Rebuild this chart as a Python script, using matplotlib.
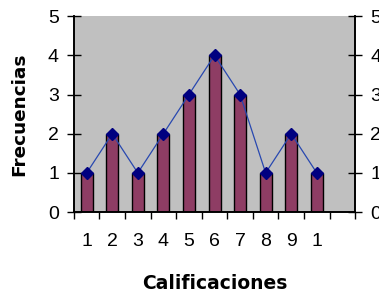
import matplotlib.pyplot as plt

categorias = ["1", "2", "3", "4", "5", "6", "7", "8", "9", "1", ""]
frecuencias = [1, 2, 1, 2, 3, 4, 3, 1, 2, 1]

fig = plt.figure(figsize=(3.79, 2.93), dpi=100)
ax = fig.add_axes([0.195, 0.276, 0.742, 0.669])
ax.set_facecolor("#C0C0C0")

x = list(range(len(frecuencias)))
ax.bar(x, frecuencias, width=0.47, color="#8E3D64", edgecolor="black", linewidth=1, zorder=2)
ax.plot(x, frecuencias, color="#2848B0", linewidth=0.9, marker="D", markersize=6.5,
        markerfacecolor="#000080", markeredgecolor="#000080", zorder=3)

ax.set_xlim(-0.5, len(categorias) - 0.5)
ax.set_ylim(0, 5)
ax.set_yticks(range(6))
ax.set_xticks(range(len(categorias)))
ax.set_xticklabels(categorias, fontfamily="Liberation Sans")
ax.set_xticks([i - 0.5 for i in range(len(categorias) + 1)], minor=True)
ax.tick_params(axis="x", which="major", length=0, labelsize=14, pad=15)
ax.tick_params(axis="x", which="minor", length=5, width=1, direction="out")
ax.tick_params(axis="y", length=9.5, width=1, direction="inout", labelsize=14, pad=6)
for lab in ax.get_yticklabels():
    lab.set_fontfamily("Liberation Sans")

# eje derecho
ax2 = ax.twinx()
ax2.set_ylim(0, 5)
ax2.set_yticks(range(6))
ax2.tick_params(axis="y", length=9.5, width=1, direction="inout", labelsize=14, pad=6)
for lab in ax2.get_yticklabels():
    lab.set_fontfamily("Liberation Sans")

for a in (ax, ax2):
    a.spines["top"].set_visible(False)
    for s in ["left", "right", "bottom"]:
        a.spines[s].set_linewidth(1.2)

ax.set_xlabel("Calificaciones", fontsize=13.5, fontweight="bold")
ax.set_ylabel("Frecuencias", fontsize=13.3, fontweight="bold")
ax.xaxis.set_label_coords(0.5, -0.315)
ax.yaxis.set_label_coords(-0.164, 0.5)

fig.savefig("out.png", dpi=100)
